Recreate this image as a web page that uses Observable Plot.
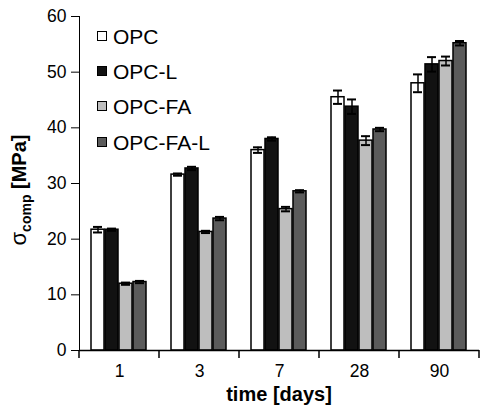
<!DOCTYPE html>
<html><head><meta charset="utf-8">
<script src="https://cdn.jsdelivr.net/npm/d3@7"></script>
<script src="https://cdn.jsdelivr.net/npm/@observablehq/plot@0.6"></script>
<style>
body{margin:0;background:#fff;font-family:"Liberation Sans",Arial,sans-serif}
#wrap{position:relative;width:480px;height:407px}
#legend{position:absolute;left:97px;top:19px;font-size:21px;color:#000}
.item{display:flex;align-items:center;height:35.3px}
.sw{width:8px;height:8px;border:1.5px solid #000;margin-right:6px;margin-top:-2px}
</style></head><body><div id="wrap"><div id="legend"></div></div>
<script>
const days = ["1", "3", "7", "28", "90"];
const series = ["OPC", "OPC-L", "OPC-FA", "OPC-FA-L"];
const colors = ["#ffffff", "#121212", "#bebebe", "#5b5b5b"];
const opc      = [21.7, 31.6, 36.0, 45.5, 48.0];
const opcL     = [21.7, 32.7, 38.0, 43.8, 51.4];
const opcFA    = [12.0, 21.3, 25.4, 37.7, 52.0];
const opcFAL   = [12.3, 23.7, 28.6, 39.7, 55.2];
const opcErr    = [0.5, 0.2, 0.5, 1.2, 1.6];
const opcLErr   = [0.2, 0.3, 0.3, 1.3, 1.3];
const opcFAErr  = [0.2, 0.2, 0.4, 0.8, 0.8];
const opcFALErr = [0.2, 0.3, 0.2, 0.3, 0.4];
const yTicks = [0, 10, 20, 30, 40, 50, 60];

const values = [opc, opcL, opcFA, opcFAL];
const errs = [opcErr, opcLErr, opcFAErr, opcFALErr];
const rows = [];
days.forEach((d, i) => series.forEach((s, j) => rows.push({day: d, series: s, value: values[j][i], err: errs[j][i]})));

const plot = Plot.plot({
  width: 480, height: 407,
  marginLeft: 78, marginRight: 0, marginTop: 16, marginBottom: 57,
  style: {fontFamily: "'Liberation Sans', Arial, sans-serif", fontSize: "17.5px", color: "#000", background: "#fff"},
  fx: {domain: days, padding: 0, label: null, axis: "bottom", tickSize: 0, tickPadding: 14},
  x: {domain: series, axis: null, paddingInner: 0.06, paddingOuter: 0.72},
  y: {domain: [0, 60], ticks: yTicks, tickSize: 8, tickPadding: 5, label: null, line: true},
  color: {domain: series, range: colors},
  marks: [
    Plot.barY(rows, {fx: "day", x: "series", y: "value", fill: "series", stroke: "#000", strokeWidth: 1.5}),
    Plot.ruleX(rows, {fx: "day", x: "series", y1: d => d.value - d.err, y2: d => d.value + d.err, stroke: "#000", strokeWidth: 1.5}),
    Plot.tickY(rows, {fx: "day", x: "series", y: d => d.value + d.err, stroke: "#000", strokeWidth: 2, inset: 2}),
    Plot.tickY(rows, {fx: "day", x: "series", y: d => d.value - d.err, stroke: "#000", strokeWidth: 2, inset: 2}),
    Plot.ruleY([0], {stroke: "#000", strokeWidth: 1.5})
  ]
});

const svg = d3.select(plot);
// category boundary ticks from the fx scale
const fxs = plot.scale("fx");
const y0 = plot.scale("y").apply(0);
const bounds = days.map(d => fxs.apply(d));
bounds.push(fxs.apply(days[days.length - 1]) + fxs.bandwidth);
svg.append("g").selectAll("line").data(bounds).join("line")
  .attr("x1", d => d).attr("x2", d => d).attr("y1", y0).attr("y2", y0 + 8)
  .attr("stroke", "#000").attr("stroke-width", 1.5);

// y-axis label
const yl = svg.append("text")
  .attr("transform", "translate(26,190) rotate(-90)")
  .attr("text-anchor", "middle").attr("font-weight", "bold").attr("font-size", 20).attr("fill", "#000");
yl.append("tspan").text("σ").attr("font-weight", "normal").attr("font-size", 22);
yl.append("tspan").text("comp").attr("font-size", 14).attr("dy", 5);
yl.append("tspan").text(" [MPa]").attr("dy", -5);

// x-axis label
svg.append("text").attr("x", (78 + 480) / 2).attr("y", 401).attr("text-anchor", "middle")
  .attr("font-weight", "bold").attr("font-size", 20).attr("fill", "#000").text("time [days]");

document.getElementById("wrap").prepend(plot);
const leg = d3.select("#legend");
series.forEach((s, j) => {
  const it = leg.append("div").attr("class", "item");
  it.append("div").attr("class", "sw").style("background", colors[j]);
  it.append("span").text(s);
});
</script>
</body></html>
